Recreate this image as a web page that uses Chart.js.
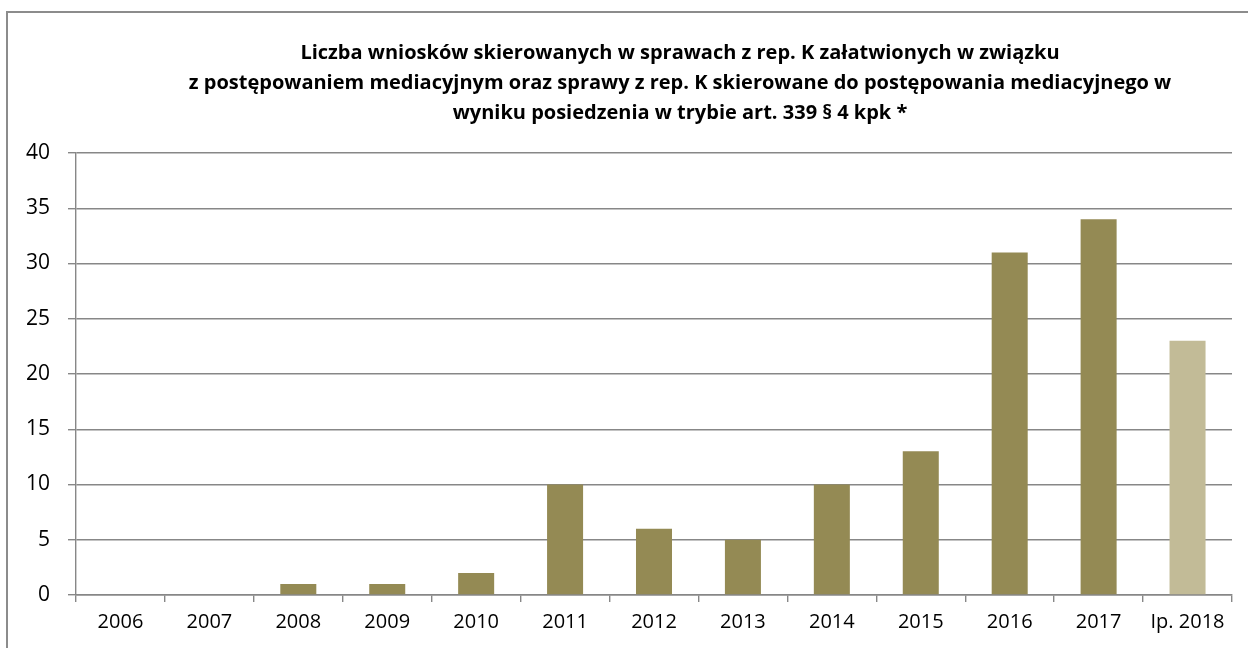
<!DOCTYPE html>
<html>
<head>
<meta charset="utf-8">
<script src="https://cdn.jsdelivr.net/npm/chart.js@4.4.1/dist/chart.umd.min.js"></script>
<style>
  html, body { margin: 0; padding: 0; background: #fff; overflow: hidden; width: 1248px; height: 648px; }
  #frame {
    position: absolute; left: 6px; top: 11px;
    width: 1360px; height: 680px;
    border: 2px solid #8c8c8c;
  }
  #wrap { position: absolute; left: 0; top: 0; width: 1360px; height: 648px; }
</style>
</head>
<body>
<div id="frame"></div>
<div id="wrap"><canvas id="chart" width="1360" height="648"></canvas></div>
<script>
// data
const years = ["2006", "2007", "2008", "2009", "2010", "2011", "2012", "2013", "2014", "2015", "2016", "2017", "Ip. 2018"];
const values = [0, 0, 1, 1, 2, 10, 6, 5, 10, 13, 31, 34, 23];
const barColors = ["#948a54", "#948a54", "#948a54", "#948a54", "#948a54", "#948a54", "#948a54",
                   "#948a54", "#948a54", "#948a54", "#948a54", "#948a54", "#c2bb97"];
const titleLines = [
    "Liczba wniosków skierowanych w sprawach z rep. K załatwionych w związku",
    "z postępowaniem mediacyjnym oraz sprawy z rep. K skierowane do postępowania mediacyjnego w",
    "wyniku posiedzenia w trybie art. 339 § 4 kpk *"
];

const FONT = "'Open Sans', 'Noto Sans', sans-serif";

new Chart(document.getElementById("chart"), {
    type: "bar",
    data: {
        labels: years,
        datasets: [{
            data: values,
            backgroundColor: barColors,
            borderWidth: 0,
            barPercentage: 0.405,
            categoryPercentage: 1
        }]
    },
    options: {
        responsive: false,
        animation: false,
        layout: { padding: { left: 0, right: 0, top: 38, bottom: 13 } },
        plugins: {
            legend: { display: false },
            tooltip: { enabled: false },
            title: {
                display: true,
                text: titleLines,
                color: "#000",
                font: { family: FONT, size: 20, weight: "bold", lineHeight: 1.5 },
                padding: { top: 0, bottom: 25 }
            }
        },
        scales: {
            y: {
                min: 0, max: 40,
                afterFit: s => { s.width = 76; },
                ticks: { stepSize: 5, color: "#000", font: { family: FONT, size: 21 }, padding: 18 },
                grid: { color: "#878787", lineWidth: 1.4, tickLength: 8 },
                border: { color: "#878787", width: 1.4 }
            },
            // empty right axis: keeps the plot ending at x=1232 while the title centres at 680
            spacer: {
                position: "right",
                afterFit: s => { s.width = 128; },
                ticks: { display: false },
                grid: { display: false },
                border: { display: false }
            },
            x: {
                afterFit: s => { s.height = 40; },
                ticks: { color: "#000", font: { family: FONT, size: 20 }, padding: 8, maxRotation: 0 },
                grid: { offset: true, drawOnChartArea: false, color: "#878787", lineWidth: 1.4, tickLength: 7 },
                border: { color: "#878787", width: 1.4 }
            }
        }
    }
});
</script>
</body>
</html>
